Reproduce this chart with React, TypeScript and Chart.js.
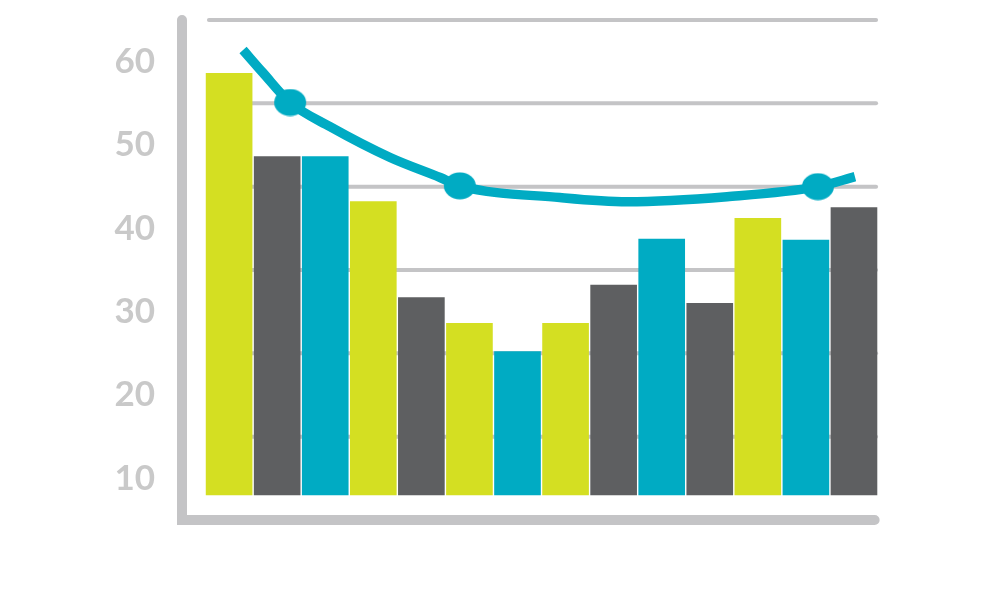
import React, { useEffect, useRef } from "react";
import { Chart, registerables } from "chart.js";

Chart.register(...registerables);

// Bars (left to right)
const barValues = [58.6, 48.6, 48.6, 43.2, 31.7, 28.6, 25.2, 28.6, 33.2, 38.7, 31.0, 41.2, 38.6, 42.5];
const barColors = ["lime", "gray", "teal", "lime", "gray", "lime", "teal", "lime", "gray", "teal", "gray", "lime", "teal", "gray"];
const barBase = 8;

// Trend curve (x in bar-slot units, y in axis units)
const curveX = [0.79, 1.2, 1.77, 2.6, 3.85, 4.89, 5.3, 7.38, 8.78, 10.86, 12.75, 13.52];
const curveY = [61.4, 58.7, 55.1, 52.2, 48.5, 46.1, 45.1, 43.7, 43.2, 43.8, 45.0, 46.2];
const curveMarkers = [false, false, true, false, false, false, true, false, false, false, true, false];

// Axis
const tickLabels = [10, 20, 30, 40, 50, 60];
const gridValues = [15, 25, 35, 45, 55, 65];

const PALETTE: Record<string, string> = {
  lime: "#d4df22",
  gray: "#5e5f61",
  teal: "#00abc3",
};
const AXIS_GRAY = "#c4c4c6";
const LABEL_GRAY = "#c9c9c9";

function makeMarker(): HTMLCanvasElement {
  const c = document.createElement("canvas");
  c.width = 34;
  c.height = 28;
  const ctx = c.getContext("2d")!;
  ctx.fillStyle = PALETTE.teal;
  ctx.beginPath();
  ctx.ellipse(17, 14, 16, 13.5, 0, 0, Math.PI * 2);
  ctx.fill();
  return c;
}

const framePlugin = {
  id: "frame",
  beforeDatasetsDraw(chart: any) {
    const { ctx, scales } = chart;
    const y = scales.y;
    const x = scales.x;
    ctx.save();
    ctx.lineCap = "round";
    // grid lines
    ctx.strokeStyle = AXIS_GRAY;
    ctx.lineWidth = 4;
    const gx0 = x.getPixelForValue(0.08);
    const gx1 = x.getPixelForValue(13.96);
    gridValues.forEach((v) => {
      const py = y.getPixelForValue(v);
      ctx.beginPath();
      ctx.moveTo(gx0, py);
      ctx.lineTo(gx1, py);
      ctx.stroke();
    });
    // axis lines
    ctx.lineWidth = 10;
    const ax = x.getPixelForValue(-0.48);
    const yTop = y.getPixelForValue(65);
    const yBot = y.getPixelForValue(5);
    const xEnd = x.getPixelForValue(13.93);
    ctx.beginPath();
    ctx.moveTo(ax, yTop);
    ctx.lineTo(ax, yBot);
    ctx.lineTo(xEnd, yBot);
    ctx.stroke();
    ctx.restore();
  },
};

export default function App() {
  const ref = useRef<HTMLCanvasElement | null>(null);

  useEffect(() => {
    if (!ref.current) return;
    const marker = makeMarker();
    const chart = new Chart(ref.current, {
      type: "bar",
      data: {
        datasets: [
          {
            type: "line",
            data: curveX.map((x, i) => ({ x, y: curveY[i] })),
            borderColor: PALETTE.teal,
            borderWidth: 9.5,
            borderCapStyle: "butt",
            cubicInterpolationMode: "monotone",
            pointStyle: curveMarkers.map((m) => (m ? marker : "circle")) as any,
            pointRadius: curveMarkers.map((m) => (m ? 14 : 0)),
            pointBackgroundColor: PALETTE.teal,
            pointBorderWidth: 0,
            clip: false as any,
            order: 0,
          } as any,
          {
            type: "bar",
            data: barValues.map((v, i) => ({ x: i + 0.5, y: v })),
            backgroundColor: barColors.map((c) => PALETTE[c]),
            base: barBase,
            barThickness: 46,
            borderWidth: 0,
            order: 1,
          } as any,
        ],
      },
      options: {
        animation: false,
        responsive: true,
        maintainAspectRatio: false,
        layout: { padding: { top: 15, bottom: 80, right: 122, left: 0 } },
        plugins: { legend: { display: false }, tooltip: { enabled: false } },
        scales: {
          x: {
            type: "linear",
            display: false,
            offset: false,
            min: -0.48,
            max: 14,
          },
          y: {
            type: "linear",
            min: 5,
            max: 65.6,
            grid: { display: false, drawTicks: false },
            border: { display: false },
            afterBuildTicks: (scale: any) => {
              scale.ticks = tickLabels.map((v) => ({ value: v }));
            },
            afterFit: (scale: any) => {
              scale.width = 182;
              scale.paddingTop = 0;
              scale.paddingBottom = 0;
            },
            ticks: {
              padding: 27,
              color: LABEL_GRAY,
              font: { family: "Lato", size: 35, weight: "bold" },
              callback: (v: any) => String(v),
            },
          },
        },
      } as any,
      plugins: [framePlugin],
    });
    return () => chart.destroy();
  }, []);

  return (
    <div style={{ position: "absolute", left: 0, top: 0, width: 1000, height: 600, background: "#fff" }}>
      <canvas ref={ref} />
    </div>
  );
}
